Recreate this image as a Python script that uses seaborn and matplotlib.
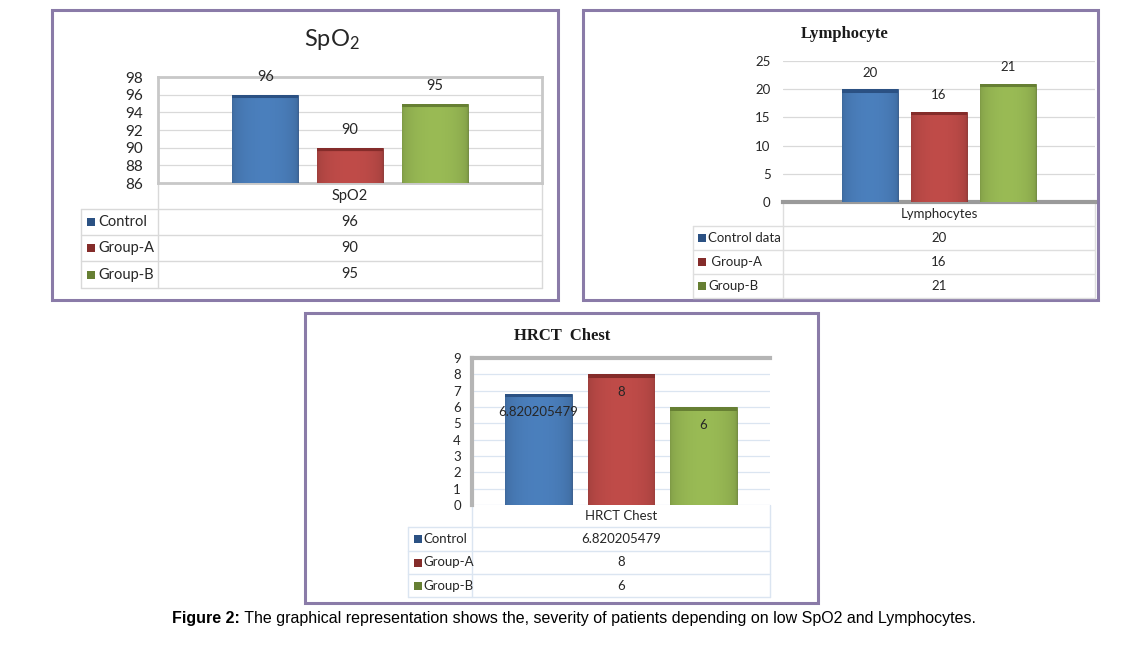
import numpy as np
import pandas as pd
import seaborn as sns
import matplotlib.pyplot as plt
from matplotlib.patches import Rectangle
from matplotlib.colors import to_rgb

# dados
grupos = ["Control", "Group-A", "Group-B"]
cores = ["#4a7ebb", "#be4b48", "#98b954"]
cores_topo = ["#2b5183", "#842c2a", "#667f33"]

spo2_valores = [96, 90, 95]
spo2_legenda = ["Control", "Group-A", "Group-B"]
spo2_ticks = [86, 88, 90, 92, 94, 96, 98]

linfo_valores = [20, 16, 21]
linfo_legenda = ["Control data", " Group-A", "Group-B"]
linfo_ticks = [0, 5, 10, 15, 20, 25]

hrct_valores = [6.820205479, 8, 6]
hrct_legenda = ["Control", "Group-A", "Group-B"]
hrct_ticks = [0, 1, 2, 3, 4, 5, 6, 7, 8, 9]

legenda_figura = "The graphical representation shows the, severity of patients depending on low SpO2 and Lymphocytes."

sns.set_style("white")
plt.rcParams["font.family"] = ["Lato", "DejaVu Sans"]
plt.rcParams["mathtext.default"] = "regular"

W, H = 1146, 649
fig = plt.figure(figsize=(W / 100, H / 100), dpi=100)

# eixo de fundo em pixels para molduras e tabelas
bg = fig.add_axes([0, 0, 1, 1])
bg.set_xlim(0, W)
bg.set_ylim(H, 0)
bg.axis("off")

for (x0, y0, x1, y1) in [(52, 10, 558, 300), (583, 10, 1098, 300), (305, 313, 818, 603)]:
    bg.add_patch(Rectangle((x0, y0), x1 - x0, y1 - y0, facecolor="white",
                           edgecolor="#8a7ba8", lw=2.2))


def eixo_px(l, t, r, b):
    return fig.add_axes([l / W, 1 - b / H, (r - l) / W, (b - t) / H])


def barras(ax, valores, largura, xlim, ylim, ticks, fs):
    df = pd.DataFrame({"Grupo": grupos, "Valor": valores})
    sns.barplot(data=df, x="Grupo", y="Valor", hue="Grupo", palette=cores,
                width=largura, saturation=1, legend=False, ax=ax, zorder=3)
    ax.set_xlim(*xlim)
    ax.set_ylim(*ylim)
    ax.set_autoscale_on(False)
    ax.set_yticks(ticks)
    ax.set_xticks([])
    ax.set_xlabel("")
    ax.set_ylabel("")
    ax.tick_params(axis="y", length=0, labelsize=fs, labelcolor="#262626")
    # sombreado estilo Excel
    for p, c, ct in zip(ax.patches, cores, cores_topo):
        x0, w = p.get_x(), p.get_width()
        base = max(ylim[0], 0)
        topo = p.get_height()
        h_px = ax.transData.transform((0, topo))[1] - ax.transData.transform((0, base))[1]
        m = max(int(h_px), 2)
        s = np.linspace(0, 1, 60)
        fator = 0.84 + 0.17 * np.sin(np.pi * s) ** 0.45
        rgb = np.clip(np.array(to_rgb(c))[None, None, :] * fator[None, :, None], 0, 1)
        img = np.repeat(rgb, m, axis=0)
        img[:4] = np.array(to_rgb(ct))
        im = ax.imshow(img, extent=[x0, x0 + w, base, topo], aspect="auto",
                       zorder=4, interpolation="bilinear")
        im.set_clip_path(p)
        p.set_edgecolor(ct)
        p.set_linewidth(0.6)
    ax.set_xlim(*xlim)
    ax.set_ylim(*ylim)


def tabela(xl, xd, xr, y_cab, linhas_y, cabecalho, legenda, valores, fs, cor_linha, x_marca, x_txt):
    bg.plot([xd, xd], [y_cab, linhas_y[-1]], color=cor_linha, lw=1)
    bg.plot([xr, xr], [y_cab, linhas_y[-1]], color=cor_linha, lw=1)
    bg.plot([xl, xl], [linhas_y[0], linhas_y[-1]], color=cor_linha, lw=1)
    for y in linhas_y:
        bg.plot([xl, xr], [y, y], color=cor_linha, lw=1)
    xc = (xd + xr) / 2
    bg.text(xc, (y_cab + linhas_y[0]) / 2, cabecalho, ha="center", va="center",
            fontsize=fs, color="#262626")
    for i, (lab, v, c) in enumerate(zip(legenda, valores, cores_topo)):
        yc = (linhas_y[i] + linhas_y[i + 1]) / 2
        bg.add_patch(Rectangle((x_marca, yc - 4), 8, 8, facecolor=c, edgecolor="none"))
        bg.text(x_txt, yc, lab, ha="left", va="center", fontsize=fs, color="#262626")
        bg.text(xc, yc, str(v), ha="center", va="center", fontsize=fs, color="#262626")


# ---- SpO2 ----
ax1 = eixo_px(158, 77, 542, 183)
barras(ax1, spo2_valores, 0.78, (-1.27, 3.27), (86, 98), spo2_ticks, 11)
ax1.tick_params(axis="y", pad=11)
ax1.grid(axis="y", color="#d9d9d9", lw=0.9, zorder=0)
for s in ax1.spines.values():
    s.set_color("#c8c8c8")
    s.set_linewidth(2)
for p, v in zip(ax1.patches, spo2_valores):
    ax1.annotate(str(v), (p.get_x() + p.get_width() / 2, v), xytext=(0, 12.5),
                 textcoords="offset points", ha="center", va="center",
                 fontsize=10.5, color="#262626", annotation_clip=False)
bg.text(332, 40, "SpO$_2$", ha="center", va="center", fontsize=17, color="#262626")
tabela(81, 158, 542, 183, [209, 235, 261, 288], "SpO2", spo2_legenda, spo2_valores,
       10.5, "#d9d9d9", 87, 98)

# ---- Lymphocyte ----
ax2 = eixo_px(783, 61, 1095, 202)
barras(ax2, linfo_valores, 0.8, (-1.26, 3.26), (0, 25), linfo_ticks, 9.5)
ax2.tick_params(axis="y", pad=9)
ax2.grid(axis="y", color="#d9d9d9", lw=0.9, zorder=0)
sns.despine(ax=ax2, left=True, top=True, right=True, bottom=False)
ax2.spines["bottom"].set_color("#9a9a9a")
ax2.spines["bottom"].set_linewidth(3)
for p, v in zip(ax2.patches, linfo_valores):
    ax2.annotate(str(v), (p.get_x() + p.get_width() / 2, v), xytext=(0, 12),
                 textcoords="offset points", ha="center", va="center",
                 fontsize=9.5, color="#262626", annotation_clip=False)
bg.text(845, 34, "Lymphocyte", ha="center", va="center", fontsize=12,
        fontweight="bold", family=["Liberation Serif", "DejaVu Serif"], color="#1a1a1a")
tabela(693, 783, 1095, 202, [226, 250, 274, 298], "Lymphocytes", linfo_legenda, linfo_valores,
       9.5, "#dedede", 698, 708)

# ---- HRCT Chest ----
ax3 = eixo_px(472, 358, 770, 505)
barras(ax3, hrct_valores, 0.81, (-0.81, 2.81), (0, 9), hrct_ticks, 9.5)
ax3.tick_params(axis="y", pad=8)
ax3.grid(axis="y", color="#dbe5f1", lw=0.9, zorder=0)
sns.despine(ax=ax3, left=False, top=False, right=True, bottom=True)
for lado in ["left", "top"]:
    ax3.spines[lado].set_color("#b5b5b5")
    ax3.spines[lado].set_linewidth(3)
for p, v in zip(ax3.patches, hrct_valores):
    ax3.annotate(str(v), (p.get_x() + p.get_width() / 2, v), xytext=(0, -13),
                 textcoords="offset points", ha="center", va="center",
                 fontsize=9.5, color="#262626", annotation_clip=False, zorder=6)
bg.text(562, 336, "HRCT  Chest", ha="center", va="center", fontsize=12,
        fontweight="bold", family=["Liberation Serif", "DejaVu Serif"], color="#1a1a1a")
tabela(408, 472, 770, 505, [527, 551, 574, 597], "HRCT Chest", hrct_legenda, hrct_valores,
       9.5, "#dbe5f1", 414, 423)

# ---- legenda da figura ----
fonte_leg = ["Liberation Sans", "DejaVu Sans"]
t1 = bg.text(172, 619, "Figure 2:", ha="left", va="center", fontsize=11.5,
             fontweight="bold", family=fonte_leg, color="black")
bg.annotate(" " + legenda_figura, xy=(1, 0.5), xycoords=t1, ha="left", va="center",
            fontsize=11.5, family=fonte_leg, color="black")

fig.savefig("out.png", dpi=100)
